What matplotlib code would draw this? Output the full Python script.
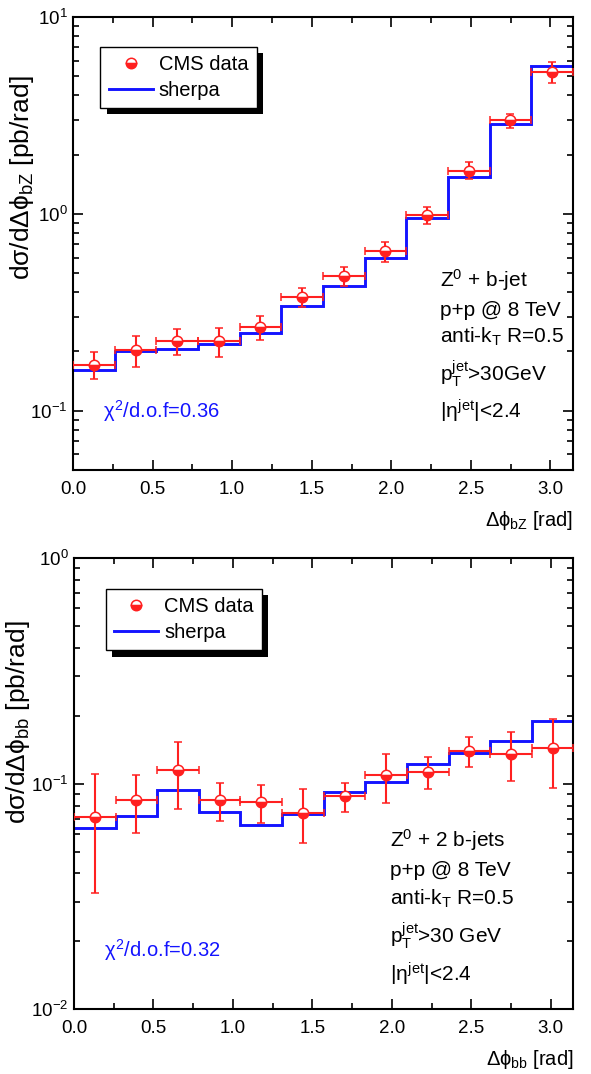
import numpy as np
import matplotlib
matplotlib.use("Agg")
import matplotlib.pyplot as plt
import matplotlib.patheffects as pe
from matplotlib import font_manager
from matplotlib.lines import Line2D
from matplotlib.ticker import MultipleLocator, LogLocator, NullFormatter

# 12 equal bins over [0, pi]
edges = [0.0, 0.262, 0.524, 0.785, 1.047, 1.309, 1.571, 1.833, 2.094, 2.356, 2.618, 2.880, 3.142]

# Z + b-jet: dsigma/d(dphi_bZ) [pb/rad]
bz_data = [0.171, 0.204, 0.225, 0.225, 0.266, 0.376, 0.485, 0.644, 0.988, 1.66, 2.98, 5.28]
bz_hi = [0.198, 0.240, 0.260, 0.263, 0.304, 0.420, 0.540, 0.723, 1.089, 1.83, 3.20, 5.91]
bz_lo = [0.145, 0.166, 0.191, 0.187, 0.228, 0.335, 0.428, 0.568, 0.890, 1.50, 2.74, 4.64]
bz_sherpa = [0.161, 0.202, 0.207, 0.218, 0.249, 0.340, 0.428, 0.598, 0.947, 1.53, 2.86, 5.66]

# Z + 2 b-jets: dsigma/d(dphi_bb) [pb/rad]
bb_data = [0.0714, 0.0847, 0.115, 0.0847, 0.0830, 0.0744, 0.0882, 0.1093, 0.113, 0.140, 0.1354, 0.1443]
bb_hi = [0.110, 0.1093, 0.1525, 0.101, 0.0987, 0.0944, 0.101, 0.1358, 0.1313, 0.161, 0.169, 0.194]
bb_lo = [0.0327, 0.0607, 0.0775, 0.0686, 0.0672, 0.0544, 0.0747, 0.0824, 0.0947, 0.118, 0.1028, 0.0953]
bb_sherpa = [0.0634, 0.0719, 0.0938, 0.0751, 0.0654, 0.0732, 0.0916, 0.1014, 0.1227, 0.1365, 0.1546, 0.1896]

bz_info = ["Z$^0$ + b-jet", "p+p @ 8 TeV", r"anti-k$_\mathrm{T}$ R=0.5",
           r"p$_\mathrm{T}^\mathrm{jet}$>30GeV", r"|$\eta^\mathrm{jet}$|<2.4"]
bb_info = ["Z$^0$ + 2 b-jets", "p+p @ 8 TeV", r"anti-k$_\mathrm{T}$ R=0.5",
           r"p$_\mathrm{T}^\mathrm{jet}$>30 GeV", r"|$\eta^\mathrm{jet}$|<2.4"]

RED = "#ff2020"
BLUE = "#1414ff"

names = {f.name for f in font_manager.fontManager.ttflist}
FONT = "Liberation Sans Narrow" if "Liberation Sans Narrow" in names else "Liberation Sans"
plt.rcParams["font.family"] = [FONT, "DejaVu Sans"]
plt.rcParams["mathtext.fontset"] = "custom"
plt.rcParams["mathtext.rm"] = FONT
plt.rcParams["mathtext.it"] = FONT
plt.rcParams["mathtext.bf"] = FONT
plt.rcParams["mathtext.sf"] = FONT


def panel(ax, data, lo, hi, sherpa, ylim, ylabel, ylab_xy, xlabel, info, info_x, info_y, chi2, chi2_y, leg_anchor):
    e = np.array(edges)
    xc = (e[:-1] + e[1:]) / 2
    xerr = (e[1:] - e[:-1]) / 2
    d = np.array(data)
    yerr = [d - np.array(lo), np.array(hi) - d]

    ax.stairs(sherpa, e, baseline=None, color=BLUE, lw=2.1, zorder=2)
    ax.errorbar(xc, d, xerr=xerr, yerr=yerr, fmt="o", color=RED, ms=7.5,
                mfc=RED, mfcalt="white", fillstyle="bottom", mec=RED, mew=1.1,
                elinewidth=1.5, capsize=3.2, capthick=1.5, zorder=3)

    ax.set_yscale("log")
    ax.set_xlim(0, np.pi)
    ax.set_ylim(*ylim)
    ax.xaxis.set_major_locator(MultipleLocator(0.5))
    ax.xaxis.set_minor_locator(MultipleLocator(0.25))
    ax.yaxis.set_minor_locator(LogLocator(subs=np.arange(2, 10)))
    ax.yaxis.set_minor_formatter(NullFormatter())
    ax.tick_params(which="both", direction="in", top=True, right=True, width=1.2, labelsize=13.5)
    ax.tick_params(which="major", length=7)
    ax.tick_params(which="minor", length=4)
    ax.tick_params(axis="x", pad=8)
    ax.tick_params(axis="y", pad=4)
    for s in ax.spines.values():
        s.set_linewidth(1.5)

    ax.set_ylabel(ylabel, fontsize=19)
    ax.yaxis.set_label_coords(*ylab_xy)
    ax.text(1.0, -0.123, xlabel, transform=ax.transAxes, ha="right", va="baseline", fontsize=14.5)

    for txt, y in zip(info, info_y):
        ax.text(info_x, y, txt, transform=ax.transAxes, fontsize=15, va="baseline")
    ax.text(0.06, chi2_y, chi2, transform=ax.transAxes, fontsize=14.5, va="baseline", color=BLUE)

    handles = [Line2D([], [], ls="none", marker="o", ms=7.5, color=RED, mfc=RED,
                      mfcalt="white", fillstyle="bottom", mec=RED, mew=1.1),
               Line2D([], [], color=BLUE, lw=2.1)]
    leg = ax.legend(handles, ["CMS data", "sherpa"], loc="upper left", bbox_to_anchor=leg_anchor,
                    borderaxespad=0, fancybox=False, edgecolor="black", framealpha=1,
                    fontsize=14.5, handlelength=2.2, handletextpad=0.3, borderpad=0.4,
                    labelspacing=0.35)
    leg.get_frame().set_linewidth(1.0)
    leg.get_frame().set_path_effects([pe.SimplePatchShadow(offset=(4.5, -4.5), shadow_rgbFace="black", alpha=1),
                                      pe.Normal()])


fig = plt.figure(figsize=(5.91, 10.74), dpi=100)
ax1 = fig.add_axes([0.1235, 0.5624, 0.846, 0.4218])
ax2 = fig.add_axes([0.1252, 0.0603, 0.845, 0.4201])

panel(ax1, bz_data, bz_lo, bz_hi, bz_sherpa, (0.05, 10),
      r"d$\sigma$/d$\Delta\phi_\mathrm{bZ}$ [pb/rad]", (-0.074, 0.645), r"$\Delta\phi_\mathrm{bZ}$ [rad]",
      bz_info, 0.734, [0.405, 0.341, 0.280, 0.196, 0.113],
      r"$\chi^2$/d.o.f=0.36", 0.115, (0.055, 0.934))
panel(ax2, bb_data, bb_lo, bb_hi, bb_sherpa, (0.01, 1),
      r"d$\sigma$/d$\Delta\phi_\mathrm{bb}$ [pb/rad]", (-0.084, 0.637), r"$\Delta\phi_\mathrm{bb}$ [rad]",
      bb_info, 0.633, [0.360, 0.295, 0.231, 0.147, 0.061],
      r"$\chi^2$/d.o.f=0.32", 0.117, (0.064, 0.931))

fig.savefig("out.png", dpi=100)
